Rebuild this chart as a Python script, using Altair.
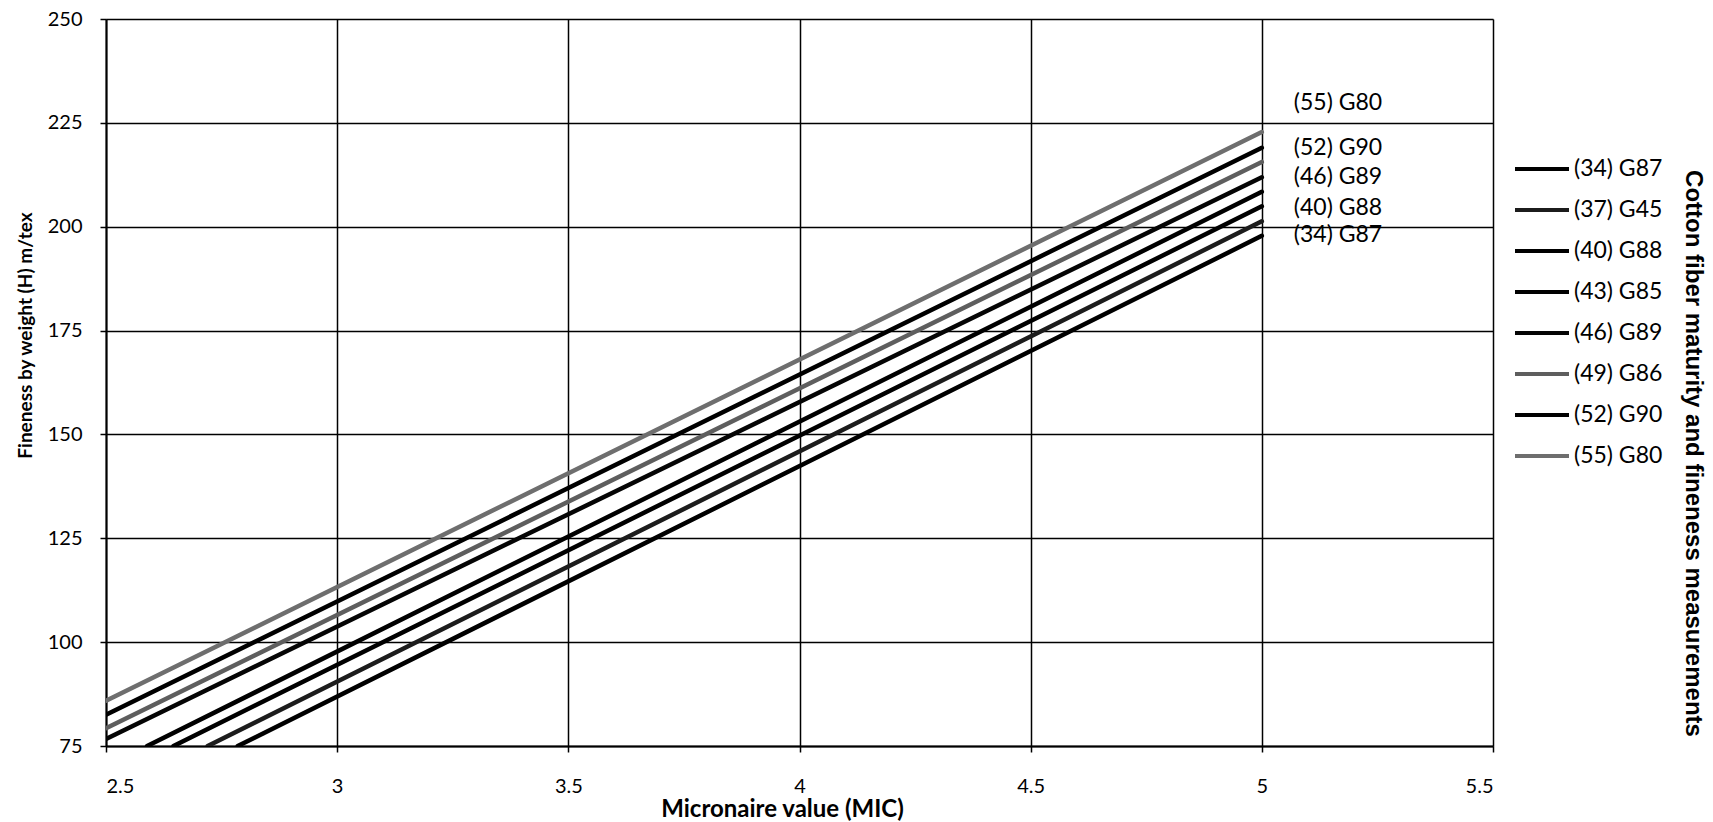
import altair as alt
import pandas as pd

# Series (legend order) and their straight-line end points
series = ["(34) G87", "(37) G45", "(40) G88", "(43) G85",
          "(46) G89", "(49) G86", "(52) G90", "(55) G80"]
x_start = [2.785, 2.72, 2.646, 2.589, 2.5, 2.5, 2.5, 2.5]
y_start = [75.0, 75.0, 75.0, 75.0, 76.7, 79.3, 82.5, 85.9]
x_end = [5.0, 5.0, 5.0, 5.0, 5.0, 5.0, 5.0, 5.0]
y_end = [197.8, 201.3, 204.9, 208.4, 211.9, 215.6, 219.0, 222.8]
line_colors = ["#000000", "#1c1c1c", "#000000", "#000000",
               "#050505", "#5e5e5e", "#000000", "#6e6e6e"]

# Data labels at the right end of the lines
end_labels = ["(55) G80", "(52) G90", "(46) G89", "(40) G88", "(34) G87"]
end_label_x = [5.0, 5.0, 5.0, 5.0, 5.0]
end_label_y = [229.8, 219.0, 212.0, 204.6, 198.0]

x_ticks = [2.5, 3, 3.5, 4, 4.5, 5, 5.5]
y_ticks = [75, 100, 125, 150, 175, 200, 225, 250]

rows = []
for s, xs, ys, xe, ye in zip(series, x_start, y_start, x_end, y_end):
    rows.append({"series": s, "mic": xs, "h": ys})
    rows.append({"series": s, "mic": xe, "h": ye})
df = pd.DataFrame(rows)
labels_df = pd.DataFrame({"label": end_labels, "mic": end_label_x, "h": end_label_y})

FONT = "Lato"

xscale = alt.Scale(domain=[2.5, 5.5], nice=False, zero=False)
yscale = alt.Scale(domain=[75, 250], nice=False, zero=False)

x_axis = alt.Axis(
    values=x_ticks, format="~g", title="Micronaire value (MIC)",
    labelFont=FONT, labelFontSize=20, labelColor="black", labelPadding=24,
    tickSize=6, tickColor="black", tickWidth=1.5,
    domainColor="black", domainWidth=2,
    grid=True, gridColor="black", gridWidth=1.5,
    titleFont=FONT, titleFontSize=24, titleFontWeight="bold", titleColor="black",
    titleX=676, titleY=63, titleAlign="center", titleBaseline="middle",
)
y_axis = alt.Axis(
    values=y_ticks, format="d", title="Fineness by weight (H) m/tex",
    labelFont=FONT, labelFontSize=20, labelColor="black", labelPadding=18,
    tickSize=6, tickColor="black", tickWidth=1.5,
    domainColor="black", domainWidth=2,
    grid=True, gridColor="black", gridWidth=1.5,
    titleFont=FONT, titleFontSize=19, titleFontWeight="bold", titleColor="black",
    titleX=-81, titleY=316, titleAngle=270, titleAlign="center", titleBaseline="middle",
)
y_axis_right = alt.Axis(
    orient="right", title="Cotton fiber maturity and fineness measurements",
    labels=False, ticks=False, domain=False, grid=False,
    titleFont="Liberation Sans", titleFontSize=24, titleFontWeight="bold", titleColor="black",
    titleX=199, titleY=434, titleAngle=90, titleAlign="center", titleBaseline="middle",
)

x_enc = alt.X("mic:Q", scale=xscale, axis=x_axis)

lines = alt.Chart(df).mark_line(strokeWidth=4.5, strokeCap="round", clip=True).encode(
    x=x_enc,
    y=alt.Y("h:Q", scale=yscale, axis=y_axis),
    color=alt.Color(
        "series:N",
        scale=alt.Scale(domain=series, range=line_colors),
        legend=alt.Legend(
            orient="none", legendX=1407, legendY=121, title=None,
            symbolType="stroke", symbolSize=2916, symbolStrokeWidth=4,
            labelFont=FONT, labelFontSize=23, labelColor="black",
            labelOffset=3, rowPadding=0, padding=0,
        ),
    ),
    detail="series:N",
)

labels = alt.Chart(labels_df).mark_text(
    align="left", baseline="middle", dx=32, font=FONT, fontSize=23, color="black"
).encode(
    x=x_enc,
    y=alt.Y("h:Q", scale=yscale, axis=y_axis_right),
    text="label:N",
)

chart = alt.layer(lines, labels).resolve_axis(y="independent").properties(
    width=1387, height=727,
    autosize=alt.AutoSizeParams(type="none"),
    padding={"left": 106, "top": 19, "right": 220, "bottom": 76},
).configure_view(stroke=None).configure(background="white")

chart.save("out.html", embed_options={"renderer": "svg", "actions": False})
